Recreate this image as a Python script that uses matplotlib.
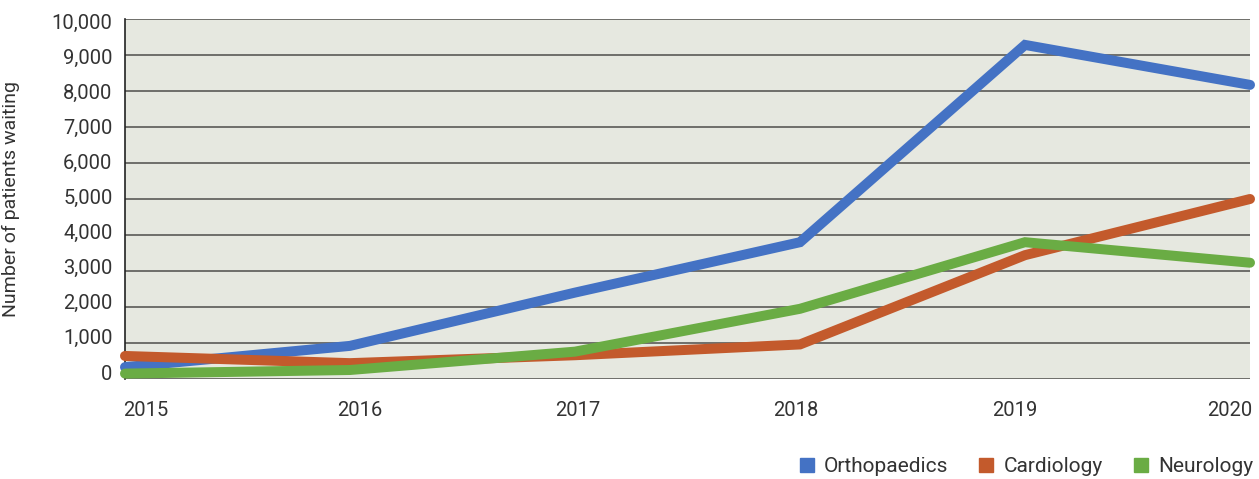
import matplotlib
matplotlib.use("Agg")
import matplotlib.pyplot as plt
from matplotlib.lines import Line2D
from matplotlib.ticker import FuncFormatter
import matplotlib.transforms as mtransforms

years = [2015, 2016, 2017, 2018, 2019, 2020]
orthopaedics = [330, 920, 2400, 3800, 9280, 8170]
cardiology = [640, 440, 660, 960, 3440, 5000]
neurology = [150, 250, 760, 1950, 3800, 3230]
series_names = ["Orthopaedics", "Cardiology", "Neurology"]
colors = ["#4472c4", "#c35a2c", "#6aac44"]
y_ticks = list(range(0, 10001, 1000))

plt.rcParams['font.family'] = ['Roboto', 'DejaVu Sans']
text_color = "#333333"

fig = plt.figure(figsize=(12.59, 4.79), dpi=100)
ax = fig.add_axes([125/1259, 1-379/479, (1250-125)/1259, (379-19)/479])
ax.set_facecolor("#e6e8e0")

for vals, c in zip([orthopaedics, cardiology, neurology], colors):
    ax.plot(years, vals, color=c, lw=7.2, solid_capstyle='round',
            solid_joinstyle='miter', zorder=3, clip_on=False)

ax.set_xlim(2015, 2020)
ax.set_ylim(0, 10000)
ax.set_yticks(y_ticks)
ax.yaxis.set_major_formatter(FuncFormatter(lambda v, p: f"{int(v):,}"))
ax.grid(axis='y', color="#6e6e6a", lw=1.4, zorder=1)
ax.set_axisbelow(True)
for s in ['top', 'right', 'bottom']:
    ax.spines[s].set_visible(False)
ax.spines['left'].set_color("#222222")
ax.spines['left'].set_linewidth(1.2)
ax.tick_params(axis='y', length=0, pad=9, labelsize=14.5, labelcolor=text_color)
ax.tick_params(axis='x', length=0, pad=16, labelsize=14.5, labelcolor=text_color)
ax.set_xticks(years)
ax.set_xticklabels([str(y) for y in years])

# small label offsets (pixels) to match the evenly justified label layout
xl = ax.get_xticklabels()
xl[0].set_ha('left')
xl[-1].set_ha('right')
x_shift = [-2, 10, 3, -4, -10, 2]
for lab, dx in zip(xl, x_shift):
    lab.set_transform(lab.get_transform() + mtransforms.ScaledTranslation(dx/100, 0, fig.dpi_scale_trans))
yl = ax.get_yticklabels()
for k, lab in enumerate(yl):
    dy = 7 - 0.9 * k  # k=0 is the 0 tick
    lab.set_transform(lab.get_transform() + mtransforms.ScaledTranslation(0, dy/100, fig.dpi_scale_trans))

ax.set_ylabel("Number of patients waiting", fontsize=14, color=text_color)
ax.yaxis.set_label_coords(-(125-20)/1125, 0.5)

handles = [Line2D([], [], marker='s', ls='none', color=c, markersize=10) for c in colors]
fig.legend(handles, series_names, loc='center right',
           bbox_to_anchor=(1253/1259, 1-467/479), ncol=3, frameon=False,
           borderpad=0, borderaxespad=0,
           fontsize=15, handlelength=0.75, handletextpad=0.45, columnspacing=1.45,
           labelcolor=text_color)

fig.savefig("out.png", dpi=100)
